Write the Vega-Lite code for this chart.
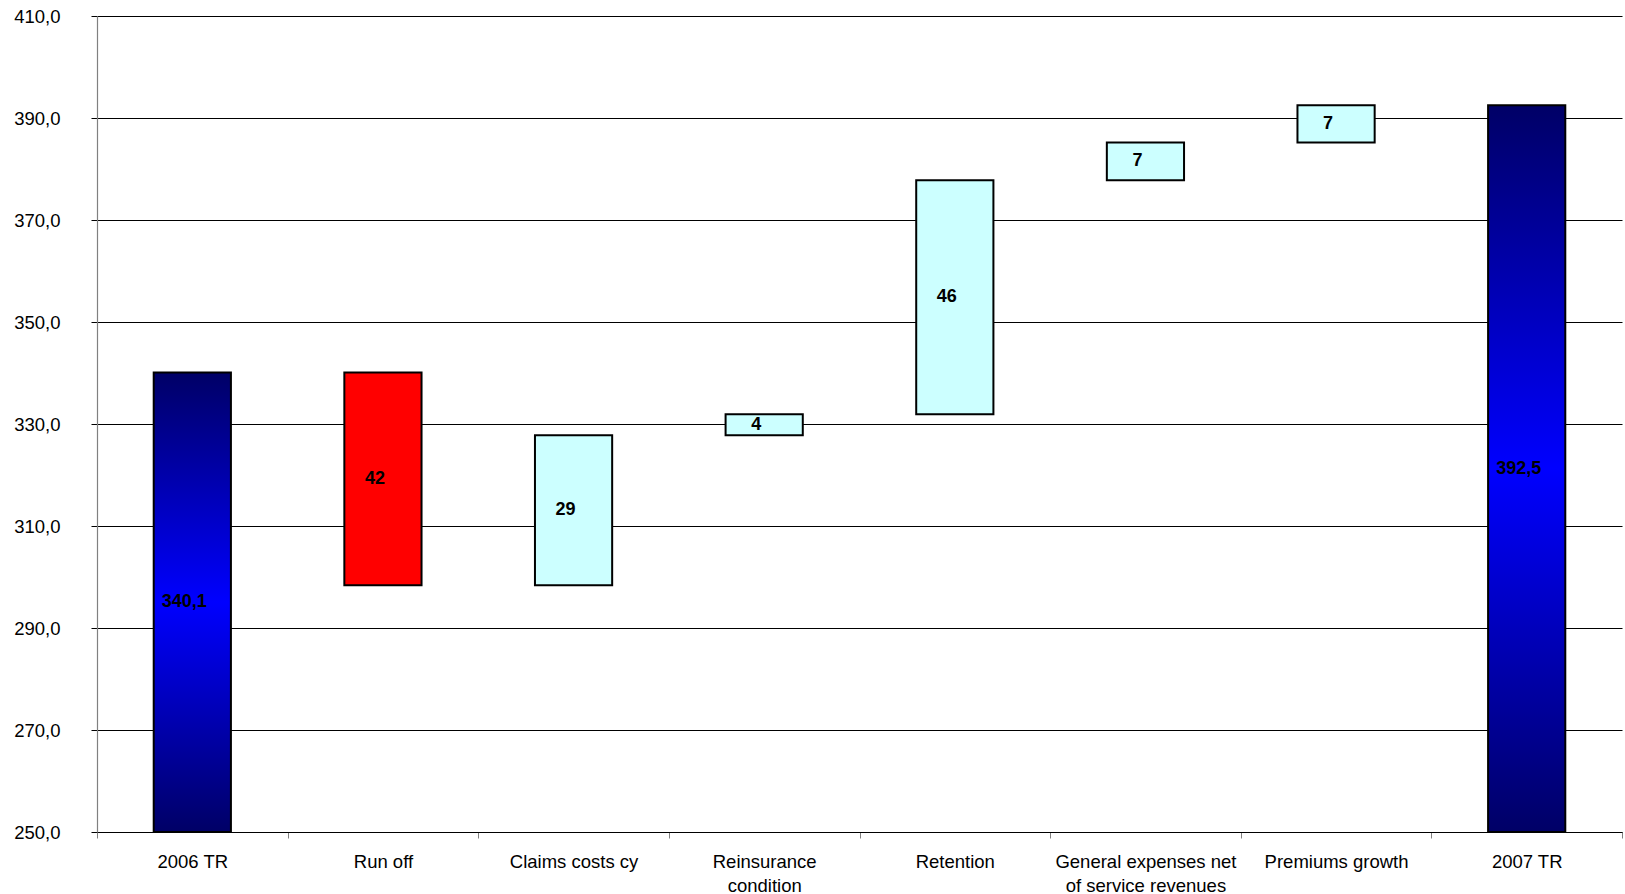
{
  "$schema": "https://vega.github.io/schema/vega-lite/v6.json",
  "autosize": "none",
  "width": 1525,
  "height": 816,
  "padding": {"left": 97, "top": 16, "right": 3, "bottom": 62},
  "background": "white",
  "config": {
    "locale": {"number": {"decimal": ",", "thousands": ".", "grouping": [3], "currency": ["", " €"]}},
    "view": {"stroke": null},
    "font": "Liberation Sans",
    "axis": {"labelFont": "Liberation Sans", "labelColor": "black", "labelFontSize": 18.5, "titleFont": "Liberation Sans"}
  },
  "datasets": {
    "totals": [
      {"category": "2006 TR", "value": 340.1},
      {"category": "2007 TR", "value": 392.5}
    ],
    "steps": [
      {"category": "Run off", "kind": "decrease", "start": 340.1, "end": 298.4, "change": 41.7},
      {"category": "Claims costs cy", "kind": "increase", "start": 298.4, "end": 327.8, "change": 29.4},
      {"category": "Reinsurance condition", "kind": "increase", "start": 327.8, "end": 331.9, "change": 4.1},
      {"category": "Retention", "kind": "increase", "start": 331.9, "end": 377.8, "change": 45.9},
      {"category": "General expenses net of service revenues", "kind": "increase", "start": 377.8, "end": 385.2, "change": 7.4},
      {"category": "Premiums growth", "kind": "increase", "start": 385.2, "end": 392.5, "change": 7.3}
    ]
  },
  "encoding": {
    "x": {
      "field": "category",
      "type": "nominal",
      "sort": ["2006 TR", "Run off", "Claims costs cy", "Reinsurance condition", "Retention", "General expenses net of service revenues", "Premiums growth", "2007 TR"],
      "scale": {
        "domain": ["2006 TR", "Run off", "Claims costs cy", "Reinsurance condition", "Retention", "General expenses net of service revenues", "Premiums growth", "2007 TR"],
        "paddingInner": 0,
        "paddingOuter": 0
      },
      "axis": {
        "title": null,
        "labelAngle": 0,
        "labelAlign": "center",
        "labelBaseline": "top",
        "labelPadding": 14,
        "labelLineHeight": 24,
        "labelLimit": 400,
        "labelExpr": "datum.value == 'Reinsurance condition' ? ['Reinsurance', 'condition'] : datum.value == 'General expenses net of service revenues' ? ['General expenses net', 'of service revenues'] : datum.value",
        "tickBand": "extent",
        "tickSize": 6,
        "tickColor": "#808080",
        "tickWidth": 1,
        "domainColor": "black",
        "domainWidth": 1.2,
        "grid": false
      }
    }
  },
  "layer": [
    {
      "data": {"name": "totals"},
      "mark": {
        "type": "bar",
        "width": {"band": 0.405},
        "stroke": "black",
        "strokeWidth": 2,
        "color": {
          "gradient": "linear",
          "x1": 0, "y1": 0, "x2": 0, "y2": 1,
          "stops": [
            {"offset": 0, "color": "#000066"},
            {"offset": 0.5, "color": "#0000FF"},
            {"offset": 1, "color": "#000066"}
          ]
        }
      },
      "encoding": {
        "y": {
          "field": "value",
          "type": "quantitative",
          "scale": {"domain": [250, 410], "zero": false, "nice": false},
          "axis": {
            "title": null,
            "values": [250, 270, 290, 310, 330, 350, 370, 390, 410],
            "format": ".1f",
            "labelPadding": 31,
            "tickSize": 6,
            "tickColor": "black",
            "domainColor": "#808080",
            "domainWidth": 1.2,
            "grid": true,
            "gridColor": "black",
            "gridWidth": 1,
            "gridOpacity": 1
          }
        },
        "y2": {"datum": 250}
      }
    },
    {
      "data": {"name": "steps"},
      "mark": {"type": "bar", "width": {"band": 0.405}, "stroke": "black", "strokeWidth": 2},
      "encoding": {
        "y": {"field": "start", "type": "quantitative"},
        "y2": {"field": "end"},
        "color": {
          "field": "kind",
          "type": "nominal",
          "scale": {"domain": ["decrease", "increase"], "range": ["#FF0000", "#CCFFFF"]},
          "legend": null
        }
      }
    },
    {
      "data": {"name": "totals"},
      "transform": [{"calculate": "(250 + datum.value) / 2", "as": "labelY"}],
      "mark": {"type": "text", "font": "Liberation Sans", "fontWeight": "bold", "fontSize": 18, "color": "black", "dx": -8, "baseline": "middle", "align": "center"},
      "encoding": {
        "y": {"field": "labelY", "type": "quantitative"},
        "text": {"field": "value", "type": "quantitative", "format": ".1f"}
      }
    },
    {
      "data": {"name": "steps"},
      "transform": [{"calculate": "(datum.start + datum.end) / 2", "as": "labelY"}],
      "mark": {"type": "text", "font": "Liberation Sans", "fontWeight": "bold", "fontSize": 18, "color": "black", "dx": -8, "baseline": "middle", "align": "center"},
      "encoding": {
        "y": {"field": "labelY", "type": "quantitative"},
        "text": {"field": "change", "type": "quantitative", "format": ".0f"}
      }
    }
  ],
  "resolve": {"scale": {"y": "shared"}}
}
